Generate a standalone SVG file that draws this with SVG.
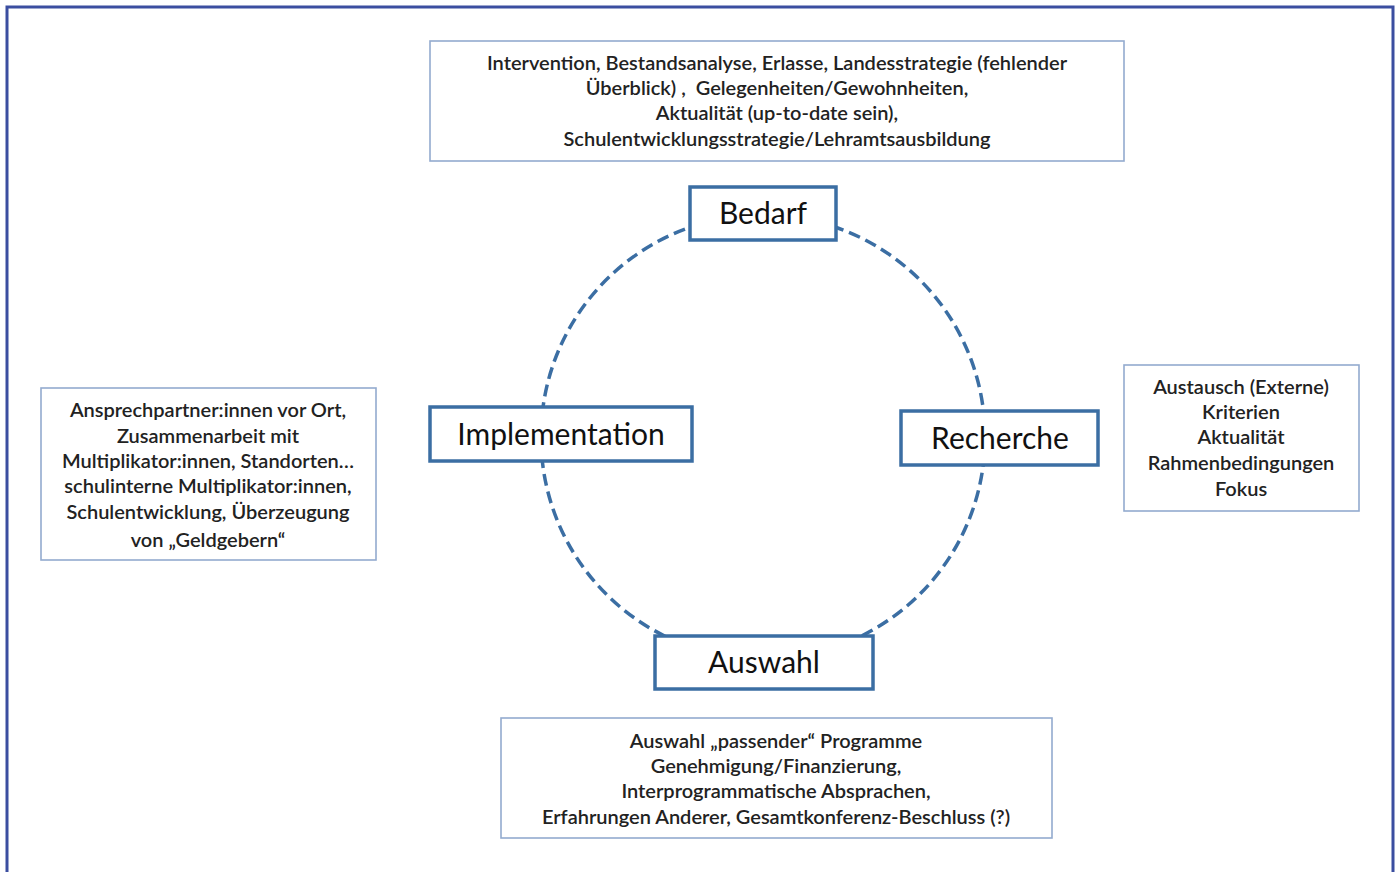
<svg xmlns="http://www.w3.org/2000/svg" width="1397" height="872" viewBox="0 0 1397 872">
<style>
.frame{fill:none;stroke:#3b4ea0;stroke-width:3}
.info{fill:#fff;stroke:#93abcf;stroke-width:1.6}
.node{fill:#fff;stroke:#3b6ea3;stroke-width:3.5}
.ring{fill:none;stroke:#3b6ea3;stroke-width:3.5;stroke-dasharray:12 6}
.t{font-family:Lato,"Liberation Sans",sans-serif;font-size:20px;fill:#222;text-anchor:middle;font-weight:600}
.n{font-family:Lato,"Liberation Sans",sans-serif;font-size:30px;fill:#111;text-anchor:middle}
</style>
<rect width="1397" height="872" fill="#fff"/>
<path class="frame" d="M7,880 V7 H1393 V880"/>
<g id="connectors">
<circle class="ring" cx="763" cy="437" r="222"/>
</g>
<g id="info-bedarf">
<rect class="info" x="430" y="41" width="694" height="120"/>
<text class="t" x="777" y="70">Intervention, Bestandsanalyse, Erlasse, Landesstrategie (fehlender</text>
<text class="t" x="777" y="95">Überblick) ,&#160; Gelegenheiten/Gewohnheiten,</text>
<text class="t" x="777" y="120">Aktualität (up-to-date sein),</text>
<text class="t" x="777" y="146">Schulentwicklungsstrategie/Lehramtsausbildung</text>
</g>
<g id="info-implementation">
<rect class="info" x="41" y="388" width="335" height="172"/>
<text class="t" x="208" y="417">Ansprechpartner:innen vor Ort,</text>
<text class="t" x="208" y="443">Zusammenarbeit mit</text>
<text class="t" x="208" y="468">Multiplikator:innen, Standorten…</text>
<text class="t" x="208" y="493">schulinterne Multiplikator:innen,</text>
<text class="t" x="208" y="519">Schulentwicklung, Überzeugung</text>
<text class="t" x="208" y="547">von „Geldgebern“</text>
</g>
<g id="info-recherche">
<rect class="info" x="1124" y="365" width="235" height="146"/>
<text class="t" x="1241" y="394">Austausch (Externe)</text>
<text class="t" x="1241" y="419">Kriterien</text>
<text class="t" x="1241" y="444">Aktualität</text>
<text class="t" x="1241" y="470">Rahmenbedingungen</text>
<text class="t" x="1241" y="496">Fokus</text>
</g>
<g id="info-auswahl">
<rect class="info" x="501" y="718" width="551" height="120"/>
<text class="t" x="776" y="748">Auswahl „passender“ Programme</text>
<text class="t" x="776" y="773">Genehmigung/Finanzierung,</text>
<text class="t" x="776" y="798">Interprogrammatische Absprachen,</text>
<text class="t" x="776" y="824">Erfahrungen Anderer, Gesamtkonferenz-Beschluss (?)</text>
</g>
<g id="node-bedarf">
<rect class="node" x="690" y="187" width="146" height="53"/>
<text class="n" x="763" y="224">Bedarf</text>
</g>
<g id="node-recherche">
<rect class="node" x="901" y="411" width="197" height="54"/>
<text class="n" x="1000" y="449">Recherche</text>
</g>
<g id="node-auswahl">
<rect class="node" x="655" y="636" width="218" height="53"/>
<text class="n" x="764" y="673">Auswahl</text>
</g>
<g id="node-implementation">
<rect class="node" x="430" y="407" width="262" height="54"/>
<text class="n" x="561" y="445">Implementation</text>
</g>
</svg>
